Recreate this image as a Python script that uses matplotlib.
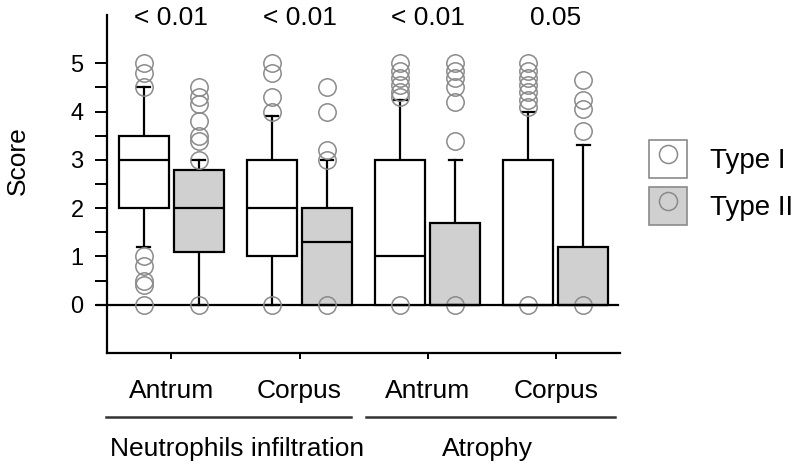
import matplotlib
matplotlib.use("Agg")
import matplotlib.pyplot as plt
from matplotlib.patches import Rectangle
from matplotlib.lines import Line2D

plt.rcParams['font.family'] = ['Liberation Sans', 'DejaVu Sans']

# ---- data ----
categories = ["Antrum", "Corpus", "Antrum", "Corpus"]
groups = ["Neutrophils infiltration", "Atrophy"]
p_values = ["< 0.01", "< 0.01", "< 0.01", "0.05"]
series = ["Type I", "Type II"]

type1_q1 = [2.0, 1.0, 0.0, 0.0]
type1_med = [3.0, 2.0, 1.0, 0.0]
type1_q3 = [3.5, 3.0, 3.0, 3.0]
type1_lo = [1.2, 0.0, 0.0, 0.0]
type1_hi = [4.5, 3.9, 4.25, 4.0]
type1_fliers = [
    [5.0, 4.8, 4.5, 1.0, 0.8, 0.5, 0.4, 0.0],
    [5.0, 4.8, 4.3, 4.0, 0.0],
    [5.0, 4.85, 4.7, 4.55, 4.4, 4.3, 0.0],
    [5.0, 4.85, 4.7, 4.55, 4.4, 4.25, 4.1, 0.0],
]

type2_q1 = [1.1, 0.0, 0.0, 0.0]
type2_med = [2.0, 1.3, 0.0, 0.0]
type2_q3 = [2.8, 2.0, 1.7, 1.2]
type2_lo = [0.0, 0.0, 0.0, 0.0]
type2_hi = [3.0, 3.0, 3.0, 3.3]
type2_fliers = [
    [4.5, 4.3, 4.15, 3.8, 3.5, 3.4, 3.0, 0.0],
    [4.5, 4.0, 3.2, 3.0, 0.0],
    [5.0, 4.85, 4.7, 4.5, 4.2, 3.4, 0.0],
    [4.65, 4.25, 4.05, 3.6, 0.0],
]

colors = ["white", "#d0d0d0"]
flier_color = "#8a8a8a"

fig = plt.figure(figsize=(8, 4.7), dpi=100)
ax = fig.add_axes([0.134, 0.249, 0.641, 0.719])

offset = 0.215
width = 0.39

def make_stats(q1, med, q3, lo, hi, fl):
    return [dict(q1=a, med=b, q3=c, whislo=d, whishi=e, fliers=f)
            for a, b, c, d, e, f in zip(q1, med, q3, lo, hi, fl)]

stats_sets = [
    make_stats(type1_q1, type1_med, type1_q3, type1_lo, type1_hi, type1_fliers),
    make_stats(type2_q1, type2_med, type2_q3, type2_lo, type2_hi, type2_fliers),
]

for k, st in enumerate(stats_sets):
    pos = [i + (offset if k else -offset) for i in range(len(categories))]
    bp = ax.bxp(st, positions=pos, widths=width, patch_artist=True,
                showfliers=True,
                boxprops=dict(facecolor=colors[k], edgecolor="black", linewidth=1.6),
                medianprops=dict(color="black", linewidth=1.6),
                whiskerprops=dict(color="black", linewidth=1.6),
                capprops=dict(color="black", linewidth=1.6),
                capwidths=0.1,
                flierprops=dict(marker="o", markerfacecolor="none",
                                markeredgecolor=flier_color, markersize=12.5,
                                markeredgewidth=1.1, linestyle="none"),
                manage_ticks=False)
    for w in bp['whiskers']:
        w.set_zorder(1)

ax.set_xlim(-0.5, 3.5)
ax.set_ylim(-1, 6)

for s in ["top", "right"]:
    ax.spines[s].set_visible(False)
for s in ["left", "bottom"]:
    ax.spines[s].set_linewidth(1.6)

ax.set_yticks([0, 1, 2, 3, 4, 5])
ax.set_yticks([0.5, 1.5, 2.5, 3.5, 4.5], minor=True)
ax.tick_params(axis="y", which="both", length=9, width=1.4, labelsize=17, pad=8)
ax.set_xticks(range(len(categories)))
ax.set_xticklabels(categories)
ax.tick_params(axis="x", length=4, width=1.4, labelsize=19, pad=15)

ax.axhline(0, xmin=-0.02, xmax=0.996, color="black", linewidth=1.6,
           clip_on=False, zorder=0.5)

for i, p in enumerate(p_values):
    ax.text(i, 5.93, p, ha="center", va="center", fontsize=19)

fig.text(0.022, 1 - 161 / 470, "Score", rotation=90, ha="center", va="center",
         fontsize=19)

# group lines and labels
group_spans = [(106, 351), (366, 615)]
group_label_x = [237, 487]
for (x0, x1), g, gx in zip(group_spans, groups, group_label_x):
    fig.add_artist(Line2D([x0 / 800, x1 / 800], [1 - 417 / 470] * 2,
                          color="#333333", linewidth=1.8))
    fig.text(gx / 800, 1 - 449 / 470, g, ha="center", va="center",
             fontsize=19)

handles = []
for c in colors:
    rect = Rectangle((0, 0), 1, 1, facecolor=c, edgecolor="#8a8a8a", linewidth=1.2)
    mk = Line2D([], [], marker="o", markerfacecolor="none", markeredgecolor=flier_color,
                markersize=13, markeredgewidth=1.1, linestyle="none")
    handles.append((rect, mk))
fig.legend(handles, series, loc="upper left",
           bbox_to_anchor=(649 / 800, 1 - 140 / 470), bbox_transform=fig.transFigure,
           frameon=False, fontsize=20, handlelength=1.37, handleheight=1.73,
           handletextpad=0.83, labelspacing=0.32, borderpad=0, borderaxespad=0)

fig.savefig("out.png", dpi=100)
